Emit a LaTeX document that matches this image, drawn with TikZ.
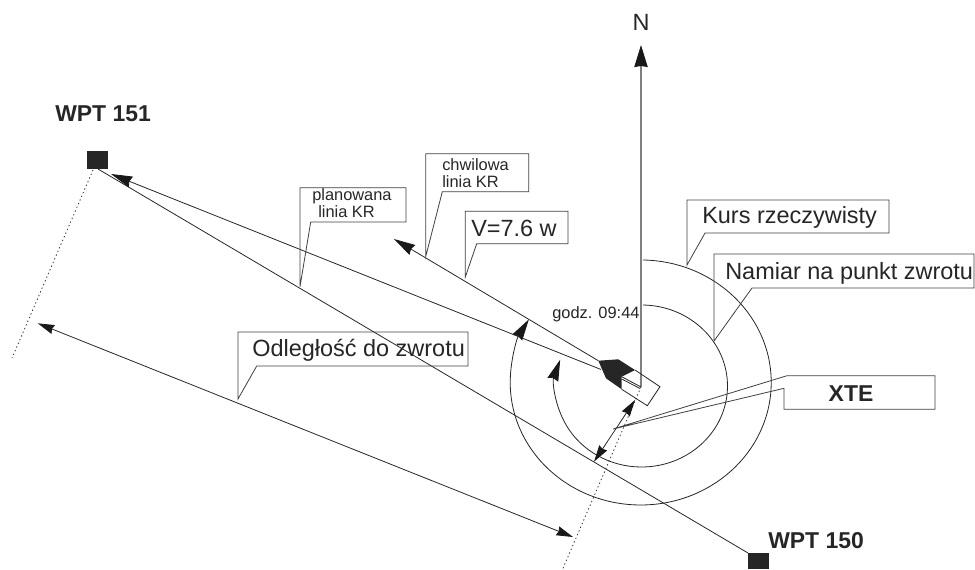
\documentclass[tikz,border=0pt]{standalone}
\usepackage{fontspec}
\setmainfont{Liberation Sans}
\usetikzlibrary{arrows.meta}
\tikzset{
    kreska/.style={black!85, line width=0.6pt},
    ramka/.style={draw=black!75, line width=0.6pt},
    grot/.style={-{Stealth[black!90, length=16pt, width=8.5pt, inset=1.2pt]}},
    grotn/.style={-{Stealth[black!90, length=16.5pt, width=10pt, inset=0.8pt]}},
    grotgroty/.style={{Stealth[black!90, length=12.5pt, width=7pt, inset=1pt]}-{Stealth[black!90, length=12.5pt, width=7pt, inset=1pt]}},
    kropki/.style={black!80, line width=0.6pt, dash pattern=on 1pt off 2pt},
    punkt/.style={draw=none, fill=black!85, minimum width=15.5pt, minimum height=13.5pt, inner sep=0pt},
    opis/.style={inner sep=0pt, text=black!85, font=\fontsize{17.6}{18}\selectfont},
    opisb/.style={inner sep=0pt, text=black!85, font=\fontsize{17.2}{18}\selectfont\bfseries},
    opism/.style={inner sep=0pt, text=black!85, align=left, font=\fontsize{12.3}{12.6}\selectfont},
}
\begin{document}
\begin{tikzpicture}[x=0.75pt, y=-0.75pt]
    \useasboundingbox (0,0) rectangle (975,569);

    % punkty charakterystyczne
    \coordinate (statek) at (641,387);
    \coordinate (nos) at (621.7,376.7);
    \coordinate (polnoc) at (641,45);
    \node[punkt] (wpt151) at (97.5,160) {};
    \fill[black!85] (748,553) rectangle (769,569);
    \coordinate (wpt150) at (748,553);
    \coordinate (start) at (98,169);

    % linie kursu
    \draw[kreska] (start) -- (wpt150);
    \draw[kreska, grot] (598.3,360.7) -- (394,239);
    \draw[kreska, grot] (601,369.5) -- (111,174);
    \draw[black!50, line width=1.1pt, grotn] (statek) -- (polnoc);

    % kręgi
    \draw[kreska, grot] (643,305) arc[start angle=-89, end angle=199, x radius=86, y radius=81];
    \draw[kreska, grot] (643,260) arc[start angle=-89, end angle=211, x radius=130.5, y radius=122.5];

    % kropkowane
    \draw[kropki] (statek) -- (562.7,569);
    \draw[kropki] (93,170) -- (12,358);

    % odcinki
    \draw[kreska, grotgroty] (594,461.7) -- (635,400);
    \draw[kreska, grotgroty] (37.7,323.3) -- (573,537);

    % jacht
    \draw[kreska] (635,370) -- (660,386.7) -- (647.3,405.7) -- (621.7,389.3);
    \fill[black!85] (598.3,360.7) -- (618.3,359.3) -- (635,370) -- (621.7,376.7) -- (621.7,389.3) -- (606,378.3) -- cycle;
    \draw[kreska] (nos) -- (statek);
    \draw[kreska] (621.7,379) -- (640,388.5);

    % ramki z opisami
    \draw[ramka] (687,200) -- (889,200) -- (889,233) -- (705,233) -- (687,265) -- cycle;
    \draw[ramka] (714,254) -- (974,254) -- (974,288) -- (752,288) -- (714,341) -- cycle;
    \draw[ramka] (613,429) -- (787,375.7) -- (935,375.7) -- (935,409.3) -- (784,409.3) -- (784,388.3) -- cycle;
    \draw[ramka] (238,332) -- (468,332) -- (468,366) -- (256.7,366) -- (238,399) -- cycle;
    \draw[ramka] (300,187.7) -- (406,187.7) -- (406,222) -- (310.7,222) -- (300,286.7) -- cycle;
    \draw[ramka] (425.7,153.7) -- (528.7,153.7) -- (528.7,191.7) -- (442.3,191.7) -- (425.7,256.7) -- cycle;
    \draw[ramka] (465.3,211.3) -- (568,211.3) -- (568,243.7) -- (476.7,243.7) -- (465.3,277) -- cycle;

    % napisy
    \node[opis] (polnocopis) at (641,22) {N};
    \node[opisb, anchor=west] (wpt151opis) at (55,114) {WPT 151};
    \node[opisb, anchor=west] (wpt150opis) at (768,541) {WPT 150};
    \node[opis, anchor=west] (kurs) at (702,217) {Kurs rzeczywisty};
    \node[opis, anchor=west] (namiar) at (725,273) {Namiar na punkt zwrotu};
    \node[opisb] (xte) at (851,394) {XTE};
    \node[opis, anchor=west] (odleglosc) at (252,350) {Odległość do zwrotu};
    \node[opis, anchor=west] (vopis) at (471,228) {V=7.6 w};
    \node[opism, anchor=west] (chwilowa) at (442,173) {chwilowa\\linia KR};
    \node[opism, anchor=west] (planowana) at (312,203) {planowana\\\hspace*{4.5pt}linia KR};
    \node[opism, anchor=west] (godz) at (552,314) {godz. 09:44};
\end{tikzpicture}
\end{document}
